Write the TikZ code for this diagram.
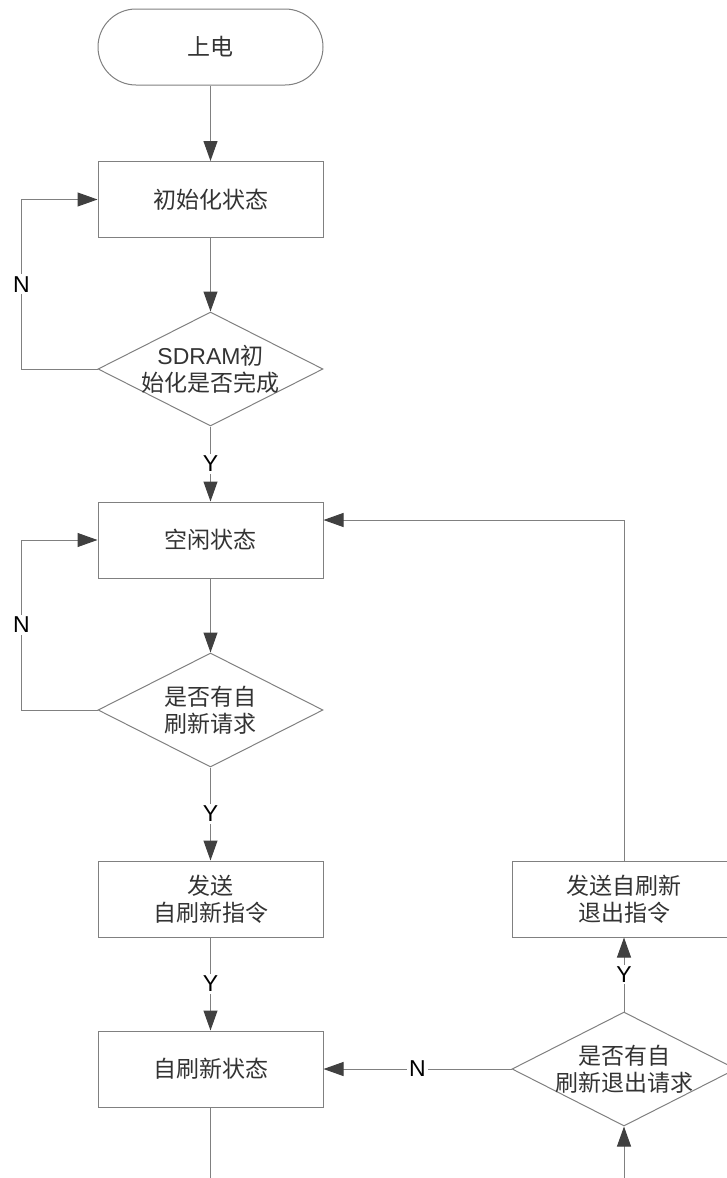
\documentclass[tikz,border=0pt]{standalone}
\usepackage{fontspec}
\setmainfont{Noto Sans CJK SC}
\newfontfamily\latin{Liberation Sans}
\usetikzlibrary{arrows.meta,shapes.geometric}
\definecolor{linegray}{HTML}{808080}
\definecolor{tipgray}{HTML}{404040}
\definecolor{textgray}{HTML}{333333}
\begin{document}
\begin{tikzpicture}[x=1pt, y=-1pt,
    >={Triangle[length=20pt, width=14pt, color=tipgray]},
    txt/.style={align=center, text=textgray, font=\fontsize{23pt}{27pt}\selectfont},
    box/.style={txt, draw=linegray, line width=1pt, minimum width=225pt, minimum height=76pt, inner sep=0pt},
    term/.style={box, rounded corners=38pt},
    dec/.style={diamond, draw=linegray, line width=1pt, minimum width=225pt, minimum height=114pt, inner sep=0pt},
    flow/.style={draw=linegray, line width=1pt, ->},
    lbl/.style={fill=white, inner sep=2pt, text=black, font=\latin\fontsize{23pt}{27pt}\selectfont}]
    \useasboundingbox (0,0) rectangle (727,1178);

    % left column
    \node[term] (start) at (210.5,47) {上电};
    \node[box] (init) at (210.5,199.5) {初始化状态};
    \node[dec, label={[txt]center:{{\latin SDRAM}初\\始化是否完成}}] (chk1) at (210.5,369) {};
    \node[box] (idle) at (210.5,540) {空闲状态};
    \node[dec, label={[txt]center:{是否有自\\刷新请求}}] (chk2) at (210.5,710) {};
    \node[box] (send) at (210.5,899) {发送\\自刷新指令};
    \node[box] (self) at (210.5,1069) {自刷新状态};

    % right column
    \node[dec, minimum width=224pt, label={[txt]center:{是否有自\\刷新退出请求}}] (chk3) at (624,1069) {};
    \node[box, minimum width=224pt] (exit) at (624,899) {发送自刷新\\退出指令};

    \coordinate (selfend) at (210.5,1178);
    \coordinate (chk3in) at (624,1178);

    \foreach \a/\b in {start/init, init/chk1, idle/chk2}
      \draw[flow] (\a.south) -- (\b.north);
    \foreach \a/\b in {chk1/idle, chk2/send, send/self}
      \draw[flow] (\a.south) -- node[lbl] {Y} (\b.north);

    \draw[flow] (chk1.west) -- ++(-76,0) |- node[lbl, pos=0.25] {N} (init.west);
    \draw[flow] (chk2.west) -- ++(-76,0) |- node[lbl, pos=0.25] {N} (idle.west);

    \draw[draw=linegray, line width=1pt] (self.south) -- (selfend);
    \draw[flow] (chk3in) -- (chk3.south);
    \draw[flow] (chk3.west) -- node[lbl] {N} (self.east);
    \draw[flow] (chk3.north) -- node[lbl] {Y} (exit.south);
    \draw[flow] (exit.north) |- ([yshift=20pt]idle.east);
\end{tikzpicture}
\end{document}
